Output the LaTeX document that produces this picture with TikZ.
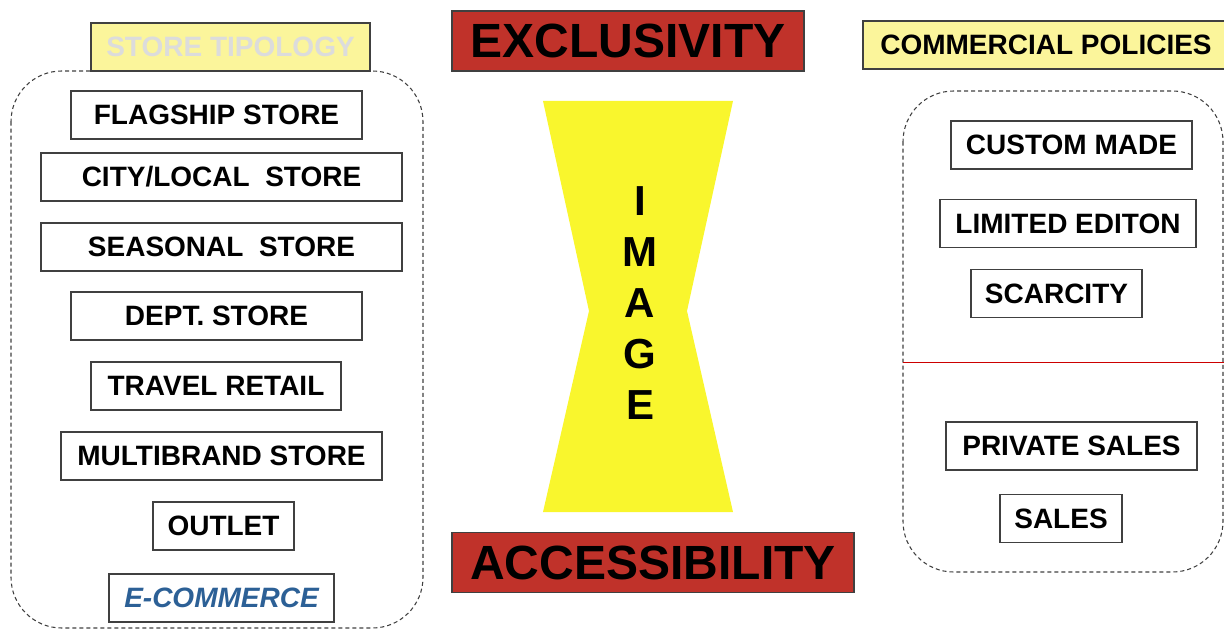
\documentclass[tikz,border=0pt]{standalone}
\usepackage{fontspec}
\setmainfont{Liberation Sans}
\usepackage{xcolor}
\usetikzlibrary{positioning}
\definecolor{labelyellow}{RGB}{251,245,155}
\definecolor{glassyellow}{RGB}{249,246,45}
\definecolor{polered}{RGB}{192,50,42}
\definecolor{edgegray}{RGB}{64,64,64}
\definecolor{webblue}{RGB}{44,96,150}
\definecolor{titlegray}{RGB}{220,220,220}

\begin{document}
\begin{tikzpicture}[x=0.75pt, y=-0.75pt,
    item/.style={draw=edgegray, line width=0.8pt, fill=white, inner sep=0pt,
        minimum height=36pt, font=\fontsize{21}{25}\selectfont\bfseries},
    boxw/.style={minimum width=#1*0.75pt},
    heading/.style={item, fill=labelyellow},
    pole/.style={draw=edgegray, line width=0.8pt, fill=polered, inner sep=0pt,
        minimum height=45pt, font=\fontsize{36}{40}\selectfont\bfseries},
    group/.style={draw=edgegray, line width=0.8pt, dash pattern=on 3pt off 2.25pt,
        rounded corners=38pt}]

    \useasboundingbox (0,0) rectangle (1224,630);

    % Dashed groups
    \draw[group] (11,71) rectangle (423,628);
    \draw[group] (903,91) rectangle (1223,572);
    \draw[red!80!black, line width=0.6pt] (903,362) -- (1224,362);

    % Store typology
    \node[heading, boxw=279, text=titlegray] (tipology) at (230.5,47) {STORE TIPOLOGY};
    \node[item, boxw=291] (flagship) at (216.5,115) {FLAGSHIP STORE};
    \node[item, boxw=361] (city) at (221.5,177) {CITY/LOCAL~~STORE};
    \node[item, boxw=361] (seasonal) at (221.5,247) {SEASONAL~~STORE};
    \node[item, boxw=291] (dept) at (216.5,316) {DEPT. STORE};
    \node[item, boxw=250] (travel) at (216,386) {TRAVEL RETAIL};
    \node[item, boxw=321] (multibrand) at (221.5,456) {MULTIBRAND STORE};
    \node[item, boxw=141] (outlet) at (223.5,526) {OUTLET};
    \node[item, boxw=225, text=webblue, font=\fontsize{21}{25}\selectfont\bfseries\itshape]
        (ecommerce) at (221.5,598) {E-COMMERCE};

    % Image axis
    \fill[glassyellow] (543,101) -- (733,101) -- (687,311) -- (733,512)
        -- (543,512) -- (589,311) -- cycle;
    \node[font=\fontsize{31.5}{38.25}\selectfont\bfseries, align=center, inner sep=0pt]
        (image) at (640,303) {I\\M\\A\\G\\E};
    \node[pole, boxw=352] (exclusivity) at (628,41) {EXCLUSIVITY};
    \node[pole, boxw=402] (accessibility) at (653,562.5) {ACCESSIBILITY};

    % Commercial policies
    \node[heading, boxw=366] (policies) at (1046,45) {COMMERCIAL POLICIES};
    \node[item, boxw=241] (custom) at (1071.5,145) {CUSTOM MADE};
    \node[item, boxw=256] (limited) at (1068,223.5) {LIMITED EDITON};
    \node[item, boxw=171] (scarcity) at (1056.5,293.5) {SCARCITY};
    \node[item, boxw=251] (private) at (1071.5,446) {PRIVATE SALES};
    \node[item, boxw=122] (sales) at (1061,518.5) {SALES};
\end{tikzpicture}
\end{document}
